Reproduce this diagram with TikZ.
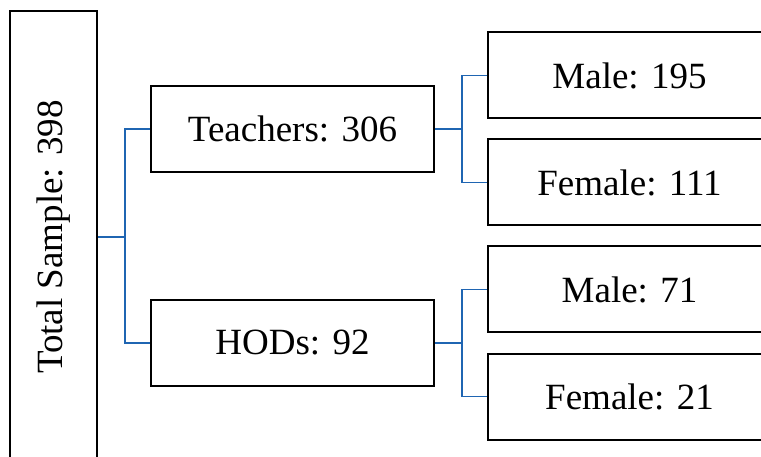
\documentclass[tikz,border=0pt]{standalone}
\usepackage{fontspec}
\setmainfont{Liberation Serif}
\usetikzlibrary{positioning}
\definecolor{linkblue}{RGB}{31,101,178}

\begin{document}
\begin{tikzpicture}[
  font=\fontsize{37}{44}\selectfont, node distance=52pt,
  box/.style={draw, line width=2pt, align=center, minimum width=283pt, minimum height=86pt, inner sep=2pt},
  link/.style={draw=linkblue, line width=1.9pt}]
\useasboundingbox (0,0) rectangle (761pt,-457pt);
\node[box, rotate=90, minimum width=452pt, minimum height=87pt] (total) at (53.5pt,-237pt) {Total Sample: 398};
\node[box, right=52pt of total.south, yshift=108pt] (teach) {Teachers: 306};
\node[box, right=52pt of total.south, yshift=-106pt] (hods) {HODs: 92};
\node[box, right=of teach, yshift=53.5pt] (m1) {Male: 195};
\node[box, right=of teach, yshift=-53.5pt] (f1) {Female: 111};
\node[box, right=of hods, yshift=53.5pt] (m2) {Male: 71};
\node[box, right=of hods, yshift=-53.5pt] (f2) {Female: 21};
% joints halfway between the columns
\coordinate[right=27pt of total.south] (j0);
\coordinate[right=27pt of teach.east] (j1);
\coordinate[right=27pt of hods.east] (j2);
\draw[link] (total.south) -- (j0);
\draw[link] (teach.west) -| (j0) |- (hods.west);
\draw[link] (teach.east) -- (j1);
\draw[link] (m1.west) -| (j1) |- (f1.west);
\draw[link] (hods.east) -- (j2);
\draw[link] (m2.west) -| (j2) |- (f2.west);
\end{tikzpicture}
\end{document}
